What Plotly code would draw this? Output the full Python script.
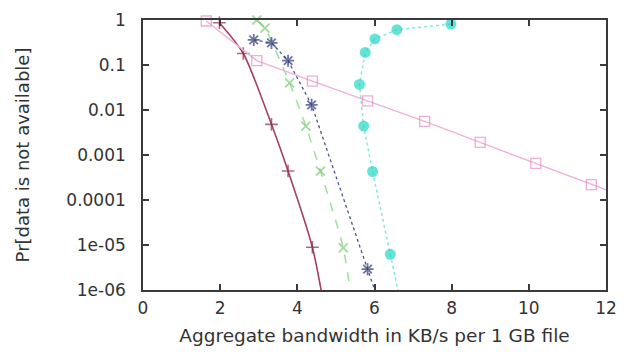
import plotly.graph_objects as go

# ---- data ----
red_x = [1.98, 2.60, 3.33, 3.76, 4.39, 4.80]
red_y = [0.87, 0.18, 0.0048, 4.4e-4, 8.9e-6, 1.3e-7]

green_x = [2.95, 3.16, 3.80, 4.22, 4.60, 5.19, 5.50]
green_y = [1.0, 0.66, 0.040, 0.0044, 4.4e-4, 8.6e-6, 1.7e-7]

blue_x = [2.87, 3.33, 3.76, 4.37, 5.82, 6.20]
blue_y = [0.36, 0.31, 0.125, 0.013, 2.9e-6, 3.3e-7]

pink_x = [1.64, 2.95, 4.39, 5.82, 7.30, 8.74, 10.18, 11.62, 13.0]
pink_y = [0.95, 0.125, 0.044, 0.016, 0.0056, 0.0019, 6.5e-4, 2.2e-4, 8.1e-5]

cyan_x = [7.98, 6.58, 6.01, 5.76, 5.61, 5.72, 5.95, 6.41, 6.80]
cyan_y = [0.81, 0.61, 0.38, 0.19, 0.037, 0.0044, 4.3e-4, 6.2e-6, 1.7e-7]

y_tickvals = [1, 0.1, 0.01, 0.001, 0.0001, 1e-5, 1e-6]
y_ticktext = ["1", "0.1", "0.01", "0.001", "0.0001", "1e-05", "1e-06"]
x_tickvals = [0, 2, 4, 6, 8, 10, 12]

x_title = "Aggregate bandwidth in KB/s per 1 GB file"
y_title = "Pr[data is not available]"


def sizes(ys, s):
    # hide markers of points lying outside the visible range
    return [s if 1e-6 <= v <= 1.0001 else 0 for v in ys]


fig = go.Figure()

fig.add_trace(go.Scatter(
    x=red_x, y=red_y, mode="lines+markers",
    line=dict(color="#a8405c", width=1.6, shape="spline", smoothing=0.7),
    marker=dict(symbol="cross-thin", size=sizes(red_y, 9),
                line=dict(color="#8a2c48", width=1.6)),
    cliponaxis=False, showlegend=False))

fig.add_trace(go.Scatter(
    x=green_x, y=green_y, mode="lines+markers",
    line=dict(color="#9ee09a", width=1.5, dash="dash", shape="spline", smoothing=0.6),
    marker=dict(symbol="x-thin", size=sizes(green_y, 9),
                line=dict(color="#7ccc7a", width=1.8)),
    cliponaxis=False, showlegend=False))

fig.add_trace(go.Scatter(
    x=blue_x, y=blue_y, mode="lines+markers",
    line=dict(color="#4a5590", width=1.3, dash="dot"),
    marker=dict(symbol="asterisk", size=sizes(blue_y, 10),
                line=dict(color="#2e3a7a", width=1.8)),
    cliponaxis=False, showlegend=False))

fig.add_trace(go.Scatter(
    x=pink_x, y=pink_y, mode="lines+markers",
    line=dict(color="#f0b0d8", width=1.4),
    marker=dict(symbol="square-open", size=sizes(pink_y, 10),
                color="#e48ac6", line=dict(color="#e48ac6", width=1.3)),
    cliponaxis=False, showlegend=False))

fig.add_trace(go.Scatter(
    x=cyan_x, y=cyan_y, mode="lines+markers",
    line=dict(color="#7fe8e0", width=1.5, dash="dot"),
    marker=dict(symbol="circle", size=sizes(cyan_y, 11),
                color="#26d6c6", line=dict(width=0)),
    cliponaxis=False, showlegend=False))

axis_common = dict(
    showline=True, linecolor="#3a3a3a", linewidth=1.6, mirror="ticks",
    ticks="inside", ticklen=6, tickwidth=1.5, tickcolor="#3a3a3a",
    showgrid=False, zeroline=False,
    tickfont=dict(family="DejaVu Sans", size=17, color="#333333"),
)

fig.update_layout(
    width=627, height=355,
    margin=dict(l=143, r=10, t=18, b=65),
    paper_bgcolor="white", plot_bgcolor="white",
    xaxis=dict(range=[0, 12], tickvals=x_tickvals, ticklabelstandoff=2,
               title=dict(text=x_title, standoff=12,
                          font=dict(family="DejaVu Sans", size=18.5, color="#333333")),
               **axis_common),
    yaxis=dict(type="log", range=[-6, 0], tickvals=y_tickvals, ticktext=y_ticktext,
               ticklabelstandoff=12,
               title=dict(text=y_title, standoff=32,
                          font=dict(family="DejaVu Sans", size=18, color="#333333")),
               **axis_common),
)

fig.write_html("out.html")
